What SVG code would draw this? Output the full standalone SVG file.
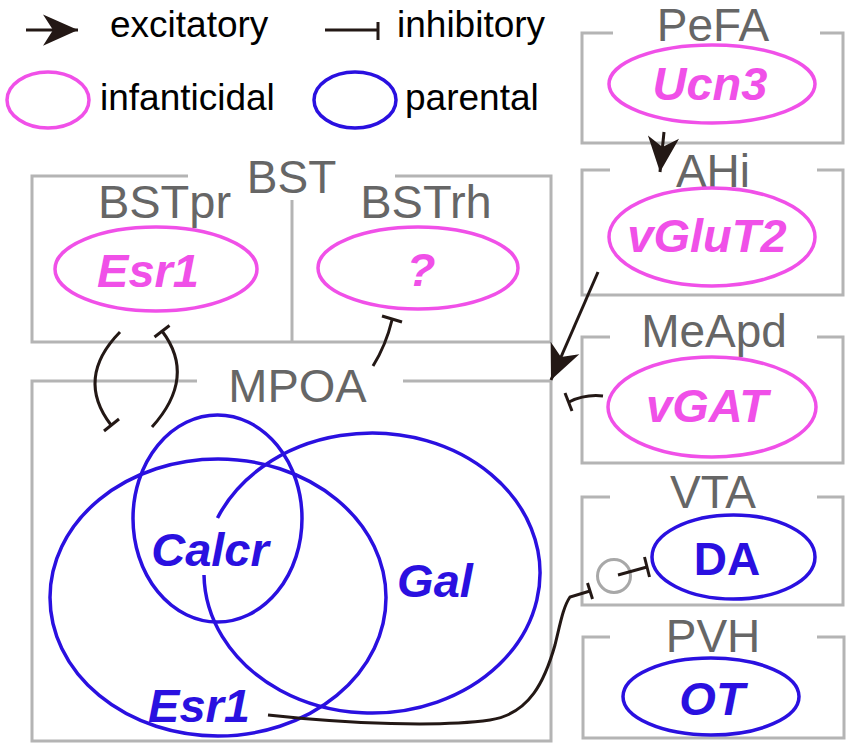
<svg xmlns="http://www.w3.org/2000/svg" width="851" height="749" viewBox="0 0 851 749">
<style>
  .box{fill:none;stroke:#b4b4b4;stroke-width:3}
  .lbl{font-family:"Liberation Sans",Arial,sans-serif;font-size:46px;fill:#666666;text-anchor:middle}
  .leg{font-family:"Liberation Sans",Arial,sans-serif;font-size:37px;fill:#000}
  .pk{fill:none;stroke:#f050e8;stroke-width:3.5}
  .bl{fill:none;stroke:#2a10e0;stroke-width:3.5}
  .gp{font-family:"Liberation Sans",Arial,sans-serif;font-size:47px;font-weight:bold;font-style:italic;text-anchor:middle}
  .tp{fill:#f050e8}
  .tb{fill:#2a10e0}
  .con{fill:none;stroke:#231815;stroke-width:3}
</style>
<defs>
  <marker id="ah" markerUnits="userSpaceOnUse" markerWidth="40" markerHeight="40" viewBox="-30 -15 32 30" refX="0" refY="0" orient="auto">
    <path d="M0,0 L-28,-12.5 L-20,0 L-28,12.5 Z" fill="#231815"/>
  </marker>
</defs>

<g id="legend">
  <line x1="26" y1="30" x2="78" y2="30" class="con" marker-end="url(#ah)"/>
  <text x="110" y="37" class="leg">excitatory</text>
  <line x1="325" y1="30" x2="378" y2="30" class="con"/>
  <line x1="378" y1="22" x2="378" y2="40" class="con"/>
  <text x="397" y="37" class="leg">inhibitory</text>
  <ellipse cx="48" cy="100" rx="41" ry="28" class="pk"/>
  <text x="100" y="110" class="leg">infanticidal</text>
  <ellipse cx="355" cy="100" rx="41" ry="28" class="bl"/>
  <text x="405" y="110" class="leg">parental</text>
</g>

<g id="BST">
  <path d="M188 176 L32 176 L32 342 L551 342 L551 176 L395 176" class="box"/>
  <line x1="292" y1="200" x2="292" y2="342" class="box"/>
  <text x="291.5" y="193" class="lbl">BST</text>
</g>
<g id="BSTpr">
  <text x="164.5" y="218" class="lbl" style="font-size:47px">BSTpr</text>
  <ellipse cx="156" cy="269" rx="101" ry="42" class="pk"/>
  <text x="148" y="287" class="gp tp">Esr1</text>
</g>
<g id="BSTrh">
  <text x="426" y="218" class="lbl" style="font-size:47px">BSTrh</text>
  <ellipse cx="418" cy="268" rx="100" ry="41" class="pk"/>
  <text x="421" y="286" class="gp tp">?</text>
</g>

<g id="MPOA">
  <path d="M197 381 L32 381 L32 741 L551 741 L551 381 L403 381" class="box"/>
  <text x="297.5" y="402" class="lbl" style="font-size:47px">MPOA</text>
  <ellipse cx="218" cy="597.5" rx="168" ry="138.5" class="bl"/>
  <ellipse cx="217.5" cy="518.5" rx="84.5" ry="103.5" class="bl"/>
  <path d="M204 575 A168 140 0 1 0 217.5 518" class="bl"/>
  <text x="210" y="566" class="gp tb">Calcr</text>
  <text x="435" y="597" class="gp tb">Gal</text>
  <text x="199" y="722" class="gp tb">Esr1</text>
</g>

<g id="PeFA">
  <path d="M613 33 L582 33 L582 143 L843 143 L843 33 L820 33" class="box"/>
  <text x="713" y="41" class="lbl">PeFA</text>
  <ellipse cx="712" cy="84" rx="103" ry="39" class="pk"/>
  <text x="710" y="100" class="gp tp">Ucn3</text>
</g>
<g id="AHi">
  <path d="M610 170 L582 170 L582 295 L843 295 L843 170 L817 170" class="box"/>
  <text x="713" y="187" class="lbl">AHi</text>
  <ellipse cx="712" cy="237" rx="103" ry="49" class="pk"/>
  <text x="707" y="252" class="gp tp">vGluT2</text>
</g>
<g id="MeApd">
  <path d="M610 337 L582 337 L582 463 L843 463 L843 337 L817 337" class="box"/>
  <text x="714" y="347" class="lbl">MeApd</text>
  <ellipse cx="712" cy="407" rx="104" ry="50" class="pk"/>
  <text x="707" y="422" class="gp tp">vGAT</text>
</g>
<g id="VTA">
  <path d="M610 497 L582 497 L582 605 L843 605 L843 497 L817 497" class="box"/>
  <text x="713" y="508" class="lbl">VTA</text>
  <ellipse cx="733.5" cy="557" rx="81.5" ry="42" class="bl"/>
  <text x="727" y="575" style="font-family:'Liberation Sans',Arial,sans-serif;font-size:46px;font-weight:bold;text-anchor:middle" class="tb">DA</text>
  <circle cx="614" cy="576" r="16.5" fill="none" stroke="#a8a8a8" stroke-width="3"/>
</g>
<g id="PVH">
  <path d="M610 637 L583 637 L583 738 L844 738 L844 637 L817 637" class="box"/>
  <text x="713" y="652" class="lbl">PVH</text>
  <ellipse cx="711" cy="696.5" rx="88" ry="38.5" class="bl"/>
  <text x="712" y="715" class="gp tb">OT</text>
</g>

<g id="connectors">
  <line x1="664" y1="132" x2="660" y2="172" class="con" marker-end="url(#ah)"/>
  <line x1="598" y1="272" x2="551" y2="380" class="con" marker-end="url(#ah)"/>
  <path d="M603 396 Q585 394 569 402" class="con"/>
  <line x1="565" y1="393" x2="572" y2="411" class="con"/>
  <path d="M120 332 Q75 378 111 425" class="con"/>
  <line x1="104" y1="431" x2="119" y2="419" class="con"/>
  <path d="M152 427 Q197 377 162 331" class="con"/>
  <line x1="154.5" y1="337" x2="169.5" y2="325.5" class="con"/>
  <path d="M373 366 Q386 345 392 320" class="con"/>
  <line x1="382" y1="316" x2="402" y2="322" class="con"/>
  <path d="M268 715 C350 724 440 727 490 720 C530 714 545 680 555 645 C560 625 563 607 570 597 L590 591" class="con"/>
  <line x1="587.5" y1="583" x2="592.5" y2="599" class="con"/>
  <line x1="618" y1="575" x2="647" y2="567" class="con"/>
  <line x1="644.5" y1="557" x2="649.5" y2="577" class="con"/>
</g>
</svg>
